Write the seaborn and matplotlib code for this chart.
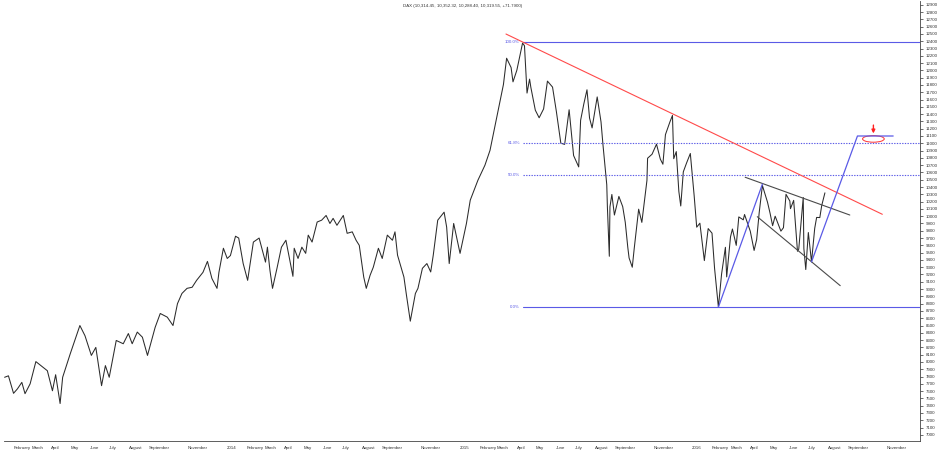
import matplotlib
matplotlib.use("Agg")
import matplotlib.pyplot as plt
import matplotlib.dates as mdates
from matplotlib.patches import Ellipse
import seaborn as sns
import pandas as pd
import numpy as np

sns.set_theme(style="white")
plt.rcParams['font.family'] = ['Liberation Sans', 'DejaVu Sans']

# ---------------- data ----------------
dates = [
    "2013-01-18", "2013-01-24", "2013-02-01", "2013-02-07", "2013-02-14", "2013-02-19", "2013-02-27",
    "2013-03-08", "2013-03-26", "2013-04-03", "2013-04-08", "2013-04-15", "2013-04-19", "2013-05-01",
    "2013-05-16", "2013-05-24", "2013-06-03", "2013-06-10", "2013-06-19", "2013-06-25", "2013-07-01",
    "2013-07-12", "2013-07-23", "2013-07-31", "2013-08-06", "2013-08-14", "2013-08-22", "2013-08-30",
    "2013-09-11", "2013-09-19", "2013-09-30", "2013-10-09", "2013-10-16", "2013-10-23", "2013-10-31",
    "2013-11-08", "2013-11-15", "2013-11-25", "2013-12-02", "2013-12-09", "2013-12-17", "2013-12-20",
    "2013-12-27",
    "2014-01-02", "2014-01-07", "2014-01-15", "2014-01-20", "2014-01-27", "2014-02-03", "2014-02-12",
    "2014-02-21", "2014-03-03", "2014-03-06", "2014-03-10", "2014-03-14", "2014-03-21", "2014-03-28",
    "2014-04-04", "2014-04-08", "2014-04-15", "2014-04-17", "2014-04-23", "2014-04-29", "2014-05-05",
    "2014-05-09", "2014-05-15", "2014-05-23", "2014-05-30", "2014-06-06", "2014-06-12", "2014-06-17",
    "2014-06-23", "2014-07-03", "2014-07-09", "2014-07-17", "2014-07-23", "2014-07-28", "2014-08-04",
    "2014-08-08", "2014-08-14", "2014-08-19", "2014-08-27", "2014-09-02", "2014-09-10", "2014-09-18",
    "2014-09-22", "2014-09-26", "2014-10-06", "2014-10-10", "2014-10-16", "2014-10-24", "2014-10-28",
    "2014-11-04", "2014-11-11", "2014-11-17", "2014-11-21", "2014-11-28", "2014-12-08", "2014-12-12",
    "2014-12-16", "2014-12-23",
    "2015-01-02", "2015-01-12", "2015-01-18", "2015-01-30", "2015-02-10", "2015-02-18", "2015-02-26",
    "2015-03-06", "2015-03-11", "2015-03-16", "2015-03-23", "2015-03-26", "2015-04-01", "2015-04-10",
    "2015-04-13", "2015-04-17", "2015-04-21", "2015-04-23", "2015-04-30", "2015-05-06", "2015-05-13",
    "2015-05-19", "2015-05-27", "2015-06-02", "2015-06-09", "2015-06-15", "2015-06-22", "2015-06-29",
    "2015-07-07", "2015-07-10", "2015-07-15", "2015-07-20", "2015-07-24", "2015-07-28", "2015-08-05",
    "2015-08-11", "2015-08-14", "2015-08-20", "2015-08-21", "2015-08-24", "2015-08-25", "2015-08-28",
    "2015-09-01", "2015-09-08", "2015-09-14", "2015-09-18", "2015-09-22", "2015-09-24", "2015-09-29",
    "2015-10-02", "2015-10-09", "2015-10-14", "2015-10-22", "2015-10-23", "2015-10-30", "2015-11-06",
    "2015-11-12", "2015-11-16", "2015-11-20", "2015-11-27", "2015-12-01", "2015-12-03", "2015-12-07",
    "2015-12-11", "2015-12-14", "2015-12-18", "2015-12-23", "2015-12-29",
    "2016-01-04", "2016-01-08", "2016-01-13", "2016-01-20", "2016-01-26", "2016-02-01", "2016-02-05",
    "2016-02-11", "2016-02-16", "2016-02-22", "2016-02-24", "2016-03-01", "2016-03-04", "2016-03-10",
    "2016-03-14", "2016-03-21", "2016-03-23", "2016-04-01", "2016-04-07", "2016-04-11", "2016-04-15",
    "2016-04-20", "2016-04-28", "2016-05-02", "2016-05-06", "2016-05-10", "2016-05-19", "2016-05-23",
    "2016-05-27", "2016-06-02", "2016-06-03", "2016-06-08", "2016-06-14", "2016-06-16", "2016-06-23",
    "2016-06-24", "2016-06-27", "2016-07-01", "2016-07-06", "2016-07-11", "2016-07-14", "2016-07-19",
    "2016-07-22", "2016-07-27",
]
closes = [
    7790, 7810, 7570, 7630, 7720, 7565, 7700,
    8005, 7880, 7605, 7825, 7430, 7790, 8115,
    8500, 8360, 8090, 8200, 7675, 7950, 7790,
    8295, 8250, 8390, 8250, 8410, 8340, 8090,
    8475, 8665, 8615, 8500, 8800, 8940, 9010,
    9025, 9120, 9230, 9380, 9145, 9010, 9230,
    9560,
    9420, 9460, 9725, 9700, 9350, 9120, 9645,
    9700, 9370, 9575, 9255, 9010, 9285, 9575,
    9670, 9490, 9175, 9560, 9420, 9575, 9490,
    9740, 9645, 9920, 9945, 10010, 9900, 9970,
    9875, 10010, 9765, 9785, 9670, 9600, 9165,
    9010, 9190, 9300, 9560, 9420, 9740, 9670,
    9785, 9465, 9165, 8915, 8560, 8940, 9010,
    9285, 9350, 9235, 9465, 9945, 10055, 9850,
    9350, 9900,
    9490, 9900, 10220, 10493, 10699, 10904, 11250,
    11600, 11806, 12167, 12040, 11843, 12001, 12375,
    12338, 11689, 11880, 11767, 11454, 11350, 11472,
    11853, 11771, 11436, 11001, 10985, 11460, 10832,
    10676, 11315, 11539, 11734, 11347, 11211, 11636,
    11293, 10985, 10432, 10124, 9450, 10128, 10298,
    10016, 10271, 10131, 9916, 9570, 9427, 9300,
    9553, 10096, 9915, 10491, 10795, 10850, 10988,
    10782, 10713, 11119, 11293, 11382, 10789, 10886,
    10340, 10140, 10608, 10727, 10860,
    10283, 9849, 9904, 9391, 9830, 9767, 9286,
    8752, 9206, 9573, 9167, 9717, 9824, 9600,
    9990, 9950, 10023, 9794, 9530, 9680, 10051,
    10421, 10192, 10041, 9870, 10000, 9795, 9842,
    10300, 10208, 10103, 10217, 9519, 9550, 10257,
    9557, 9268, 9776, 9373, 9833, 9983, 9981,
    10147, 10320,
]

title_text = "DAX (10,314.45, 10,352.32, 10,288.40, 10,319.55, +71.7900)"

# Fibonacci retracement (high / low and levels)
fib_start = "2015-04-10"
fib_high = 12390
fib_low = 8752
fib_ratios = [1.0, 0.618, 0.5, 0.0]
fib_labels = ["100.0%", "61.8%", "50.0%", "0.0%"]
fib_styles = ["solid", "dotted", "dotted", "solid"]

# Trend lines (date, value) pairs
red_line_dates = ["2015-03-15", "2016-10-25"]
red_line_vals = [12499, 10026]
upper_chan_dates = ["2016-03-24", "2016-09-04"]
upper_chan_vals = [10534, 10016]
lower_chan_dates = ["2016-04-12", "2016-08-20"]
lower_chan_vals = [9993, 9047]
leg1_dates = ["2016-02-11", "2016-04-20"]
leg1_vals = [8752, 10440]
leg2_dates = ["2016-07-06", "2016-09-16", "2016-11-11"]
leg2_vals = [9373, 11100, 11100]
target_center_date = "2016-10-11"
target_center_val = 11060
arrow_from_val = 11250
arrow_to_val = 11135

# ---------------- figure ----------------
df = pd.DataFrame({"date": pd.to_datetime(dates), "close": closes})

fig = plt.figure(figsize=(9.45, 4.55), dpi=100)
ax = fig.add_axes([0.0042, 0.0308, 0.9693, 0.967])

BLUE = "#5a5ae6"
sns.lineplot(data=df, x="date", y="close", ax=ax, color="#2b2b2b", linewidth=0.75)

x_left = pd.Timestamp("2013-01-17")
x_right = pd.Timestamp("2016-12-23")

# Fibonacci lines
for r, lab, st in zip(fib_ratios, fib_labels, fib_styles):
    lvl = fib_low + r * (fib_high - fib_low)
    ls = "-" if st == "solid" else (0, (1.2, 1.2))
    ax.plot([pd.Timestamp(fib_start), x_right], [lvl, lvl], color=BLUE,
            linewidth=0.8, linestyle=ls)
    ax.annotate(lab, xy=(pd.Timestamp(fib_start), lvl), xytext=(-2, 0),
                textcoords="offset points", ha="right", va="center",
                fontsize=3.2, color=BLUE)

ax.plot(pd.to_datetime(red_line_dates), red_line_vals, color="#ff4a4a", linewidth=0.8)
ax.plot(pd.to_datetime(upper_chan_dates), upper_chan_vals, color="#4a4a4a", linewidth=0.8)
ax.plot(pd.to_datetime(lower_chan_dates), lower_chan_vals, color="#4a4a4a", linewidth=0.8)
ax.plot(pd.to_datetime(leg1_dates), leg1_vals, color=BLUE, linewidth=0.9)
ax.plot(pd.to_datetime(leg2_dates), leg2_vals, color=BLUE, linewidth=0.9)

cx = mdates.date2num(pd.Timestamp(target_center_date))
ax.add_patch(Ellipse((cx, target_center_val), width=34, height=90,
                     fill=False, edgecolor="#ff3030", linewidth=0.7))
ax.annotate("", xy=(cx, arrow_to_val), xytext=(cx, arrow_from_val),
            arrowprops=dict(arrowstyle="-|>", color="#ff2020", lw=1.0,
                            mutation_scale=5, shrinkA=0, shrinkB=0))

# axes limits
ax.set_xlim(x_left, x_right)
ax.set_ylim(6916, 12952)

# x ticks: month starts
months = pd.date_range("2013-02-01", "2016-12-01", freq="MS")
mlabels = []
for m in months:
    if m.month == 1:
        mlabels.append(str(m.year))
    elif m.month in (10, 12):
        mlabels.append("")
    else:
        mlabels.append(m.strftime("%B"))
ax.set_xticks(months)
ax.set_xticklabels(mlabels, ha="left")
ax.xaxis.set_minor_locator(mdates.WeekdayLocator(byweekday=mdates.MO))
ax.tick_params(axis="x", which="major", length=2.5, width=0.5, pad=1,
               labelsize=3.2, colors="#333333", direction="out")
ax.tick_params(axis="x", which="minor", length=1.5, width=0.4, colors="#333333",
               direction="out")
ax.set_xlabel("")

# y ticks on the right
ax.yaxis.tick_right()
yt = np.arange(7000, 12901, 100)
ax.set_yticks(yt)
ax.set_yticklabels([str(v) for v in yt])
ax.tick_params(axis="y", which="major", length=2.5, width=0.5, pad=1.5,
               labelsize=3.2, colors="#333333", direction="out")
ax.set_ylabel("")

for side in ["left", "top"]:
    ax.spines[side].set_visible(False)
for side in ["right", "bottom"]:
    ax.spines[side].set_visible(True)
    ax.spines[side].set_color("#444444")
    ax.spines[side].set_linewidth(0.6)

ax.grid(False)
ax.set_facecolor("white")
fig.patch.set_facecolor("white")

fig.text(0.49, 0.986, title_text, ha="center", va="center", fontsize=3.2, color="#333333")

fig.savefig("out.png", dpi=100, facecolor="white")
